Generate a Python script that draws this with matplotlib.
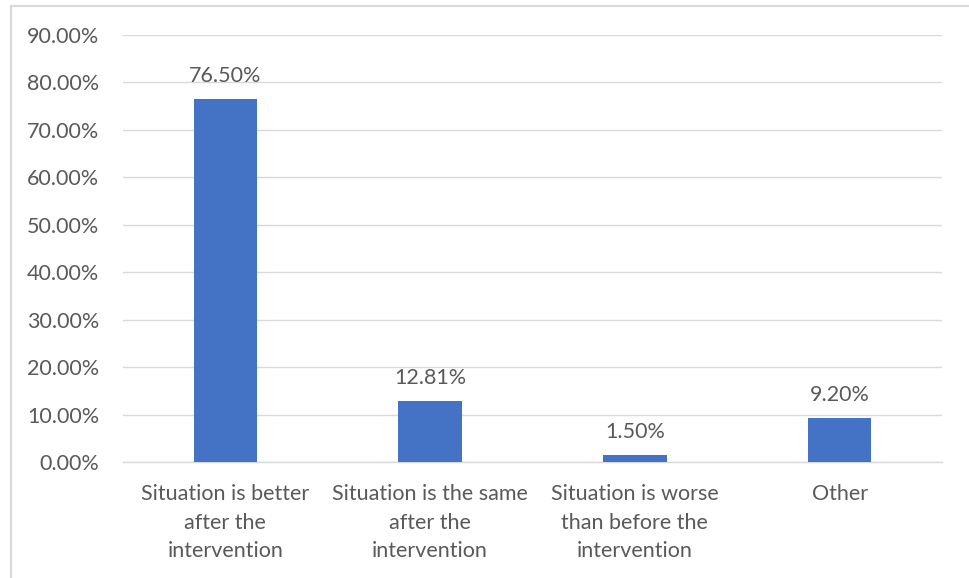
import numpy as np
import matplotlib.pyplot as plt
from matplotlib.lines import Line2D
from matplotlib.ticker import FuncFormatter

categories = ['Situation is better\nafter the\nintervention',
              'Situation is the same\nafter the\nintervention',
              'Situation is worse\nthan before the\nintervention',
              'Other']
values = [76.50, 12.81, 1.50, 9.20]
y_ticks = [0, 10, 20, 30, 40, 50, 60, 70, 80, 90]

plt.rcParams['font.family'] = ['Lato', 'DejaVu Sans']
text_color = '#595959'
grid_color = '#D9D9D9'
fs = 15.5

fig = plt.figure(figsize=(9.69, 5.78), dpi=100)
W, H = 969, 578
ax = fig.add_axes([123 / W, 1 - 462 / H, (942 - 123) / W, (462 - 35) / H])

x = np.arange(len(categories))
bars = ax.bar(x, values, width=0.31, color='#4472C4', zorder=3)

for rect, v in zip(bars, values):
    ax.annotate(f'{v:.2f}%', (rect.get_x() + rect.get_width() / 2, v),
                xytext=(0, 12.5), textcoords='offset points',
                ha='center', va='baseline', fontsize=fs, color=text_color)

ax.set_xlim(-0.5, len(categories) - 0.5)
ax.set_ylim(0, 90)
ax.set_yticks(y_ticks)
ax.yaxis.set_major_formatter(FuncFormatter(lambda v, p: f'{v:.2f}%'))
ax.set_xticks(x)
ax.set_xticklabels(categories, linespacing=1.52)

ax.grid(axis='y', color=grid_color, linewidth=1.0, zorder=0)
for s in ['top', 'right', 'left']:
    ax.spines[s].set_visible(False)
ax.spines['bottom'].set_color(grid_color)
ax.spines['bottom'].set_linewidth(1.0)
ax.tick_params(axis='both', length=0, colors=text_color, labelsize=fs)
ax.tick_params(axis='y', pad=17)
ax.tick_params(axis='x', pad=16)

# outer chart frame (top and left edges)
fig.add_artist(Line2D([11 / W, 11 / W], [0, 1 - 6 / H], transform=fig.transFigure,
                      color=grid_color, linewidth=1.5))
fig.add_artist(Line2D([11 / W, 1], [1 - 6 / H, 1 - 6 / H], transform=fig.transFigure,
                      color=grid_color, linewidth=1.5))

plt.savefig('out.png', dpi=100)
plt.close()
